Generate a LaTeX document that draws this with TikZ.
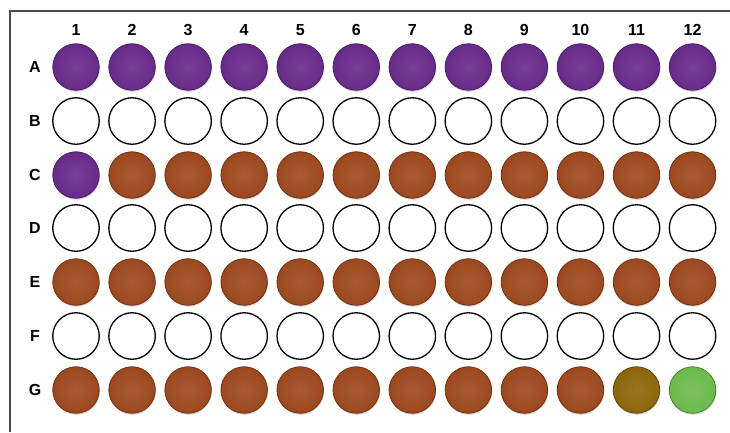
\documentclass[tikz,border=0pt]{standalone}
\usepackage{fontspec}
\setmainfont{Liberation Sans}
\usetikzlibrary{shadows}

\definecolor{wellpurple}{RGB}{104,42,138}
\definecolor{wellbrown}{RGB}{156,72,30}
\definecolor{wellolive}{RGB}{140,102,10}
\definecolor{wellgreen}{RGB}{108,186,76}

\begin{document}
\begin{tikzpicture}[
    x=1pt, y=-1pt,
    well/.style={circle, minimum size=46.5pt, inner sep=0pt},
    open well/.style={well, draw=black, line width=1.3pt, fill=white},
    full well/.style={well, draw=#1!70!black, line width=0.8pt, inner color=#1!90!white, outer color=#1,
        drop shadow={shadow xshift=0.6pt, shadow yshift=-1.6pt, opacity=0.3}},
    plate label/.style={font=\fontsize{16}{18}\selectfont\bfseries, inner sep=0pt}
]
\useasboundingbox (0,0) rectangle (730,432);
\draw[line width=1.6pt, black!70] (10,432) |- (730,11);

% column and row labels
\foreach \c in {1,...,12}
    \node[plate label] (col\c) at ({76+56.05*(\c-1)},30) {\c};
\foreach \r/\y in {A/67,B/121,C/175,D/228,E/282,F/336,G/390}
    \node[plate label] (row\r) at (35,\y) {\r};

% row A
\foreach \c in {1,...,12}
    \node[full well=wellpurple] (A\c) at ({76+56.05*(\c-1)},67) {};
% row B
\foreach \c in {1,...,12}
    \node[open well] (B\c) at ({76+56.05*(\c-1)},121) {};
% row C
\node[full well=wellpurple] (C1) at (76,175) {};
\foreach \c in {2,...,12}
    \node[full well=wellbrown] (C\c) at ({76+56.05*(\c-1)},175) {};
% row D
\foreach \c in {1,...,12}
    \node[open well] (D\c) at ({76+56.05*(\c-1)},228) {};
% row E
\foreach \c in {1,...,12}
    \node[full well=wellbrown] (E\c) at ({76+56.05*(\c-1)},282) {};
% row F
\foreach \c in {1,...,12}
    \node[open well] (F\c) at ({76+56.05*(\c-1)},336) {};
% row G
\foreach \c in {1,...,10}
    \node[full well=wellbrown] (G\c) at ({76+56.05*(\c-1)},390) {};
\node[full well=wellolive] (G11) at ({76+56.05*10},390) {};
\node[full well=wellgreen] (G12) at ({76+56.05*11},390) {};

\end{tikzpicture}
\end{document}
